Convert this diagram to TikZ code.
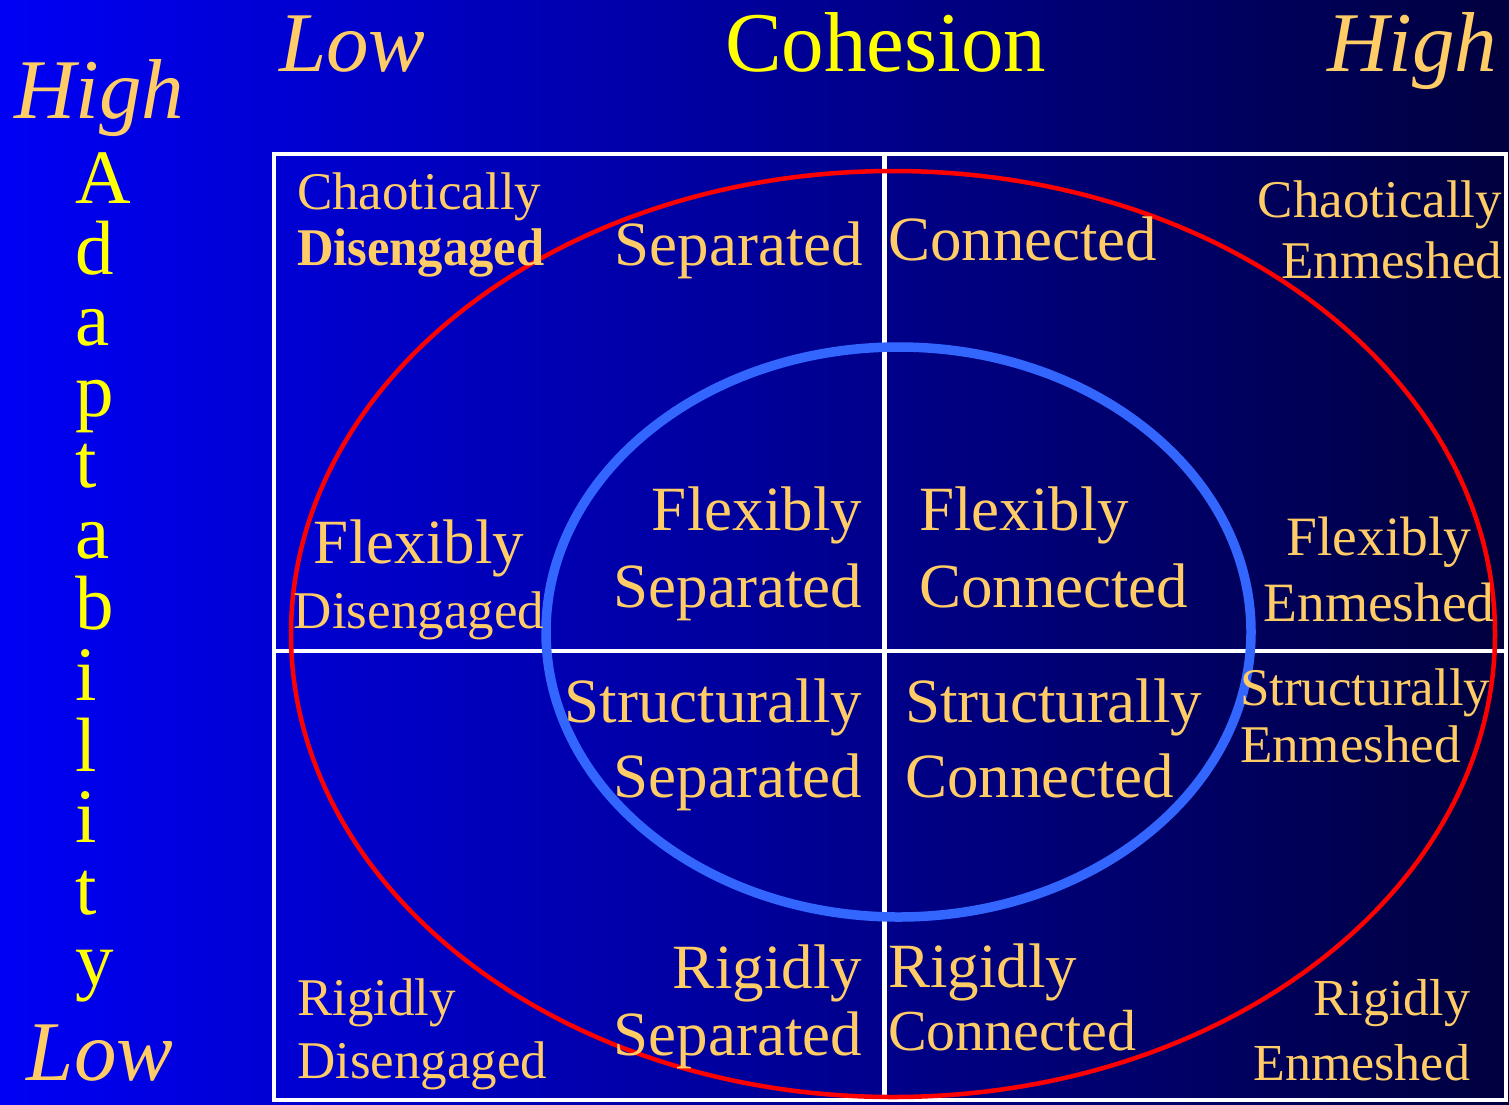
\documentclass[tikz,border=0pt]{standalone}
\usepackage{fontspec}
\usetikzlibrary{shapes.geometric}
\setmainfont{Liberation Serif}
\newcommand\fsz[1]{\fontsize{#1}{#1}\selectfont}
\definecolor{bgL}{RGB}{0,0,245}
\definecolor{bgM}{RGB}{0,0,182}
\definecolor{bgR}{RGB}{0,0,62}
\definecolor{lbl}{RGB}{255,204,102}
\definecolor{ylw}{RGB}{255,255,0}
\definecolor{inner}{RGB}{51,102,255}
\begin{document}
\begin{tikzpicture}[x=1pt,y=-1pt,
  txt/.style={inner sep=0pt,outer sep=0pt,text=lbl},
  big/.style={txt,font=\fsz{63}},
  mid/.style={txt,font=\fsz{53}},
  axis/.style={txt,font=\fsz{85}\itshape},
  letter/.style={inner sep=0pt,outer sep=0pt,text=ylw,font=\fsz{77},anchor=base west},
  frame/.style={draw=white,line width=4.5pt}]
\useasboundingbox (0,0) rectangle (1509,1104);
\shade[left color=bgL,middle color=bgM,right color=bgR] (0,0) rectangle (1509,1104);

% frame and dividers
\draw[frame] (274,154) rectangle (1506,1100);
\draw[frame] (884.5,154) -- (884.5,1100);
\draw[frame] (274,651) -- (1506,651);

% ellipses
\node[draw=red,line width=4.5pt,ellipse,minimum width=1204pt,minimum height=926pt,inner sep=0pt,outer sep=0pt] (outer) at (893,634) {};
\node[draw=inner,line width=9.5pt,ellipse,minimum width=705pt,minimum height=570pt,inner sep=0pt,outer sep=0pt] (innerE) at (898.5,632) {};

% axis labels
\node[axis,anchor=base west] (hiA) at (14,118) {High};
\node[axis,anchor=base west] (loA) at (27,1080) {Low};
\node[axis,anchor=base west] (loC) at (279,71) {Low};
\node[axis,anchor=base east] (hiC) at (1497,71) {High};
\node[inner sep=0pt,text=ylw,font=\fsz{85},anchor=base west] (coh) at (725,71) {Cohesion};

% Adaptability
\foreach \ch [count=\i from 0] in {A,d,a,p,t,a,b,i,l,i,t,y}
  \node[letter] (ad\i) at (75,203+71.1*\i) {\ch};

% top-left cell
\node[mid,anchor=base west] (cd1) at (297,209) {Chaotically};
\node[mid,anchor=base west,font=\fsz{53}\bfseries,xscale=0.955] (cd2) at (297,265) {Disengaged};
\node[big,anchor=base east] (sep) at (863,265) {Separated};
\node[big,anchor=base] (fd1) at (419,563) {Flexibly};
\node[mid,anchor=base] (fd2) at (419,628) {Disengaged};
\node[big,anchor=base east] (fs1) at (862,530) {Flexibly};
\node[big,anchor=base east] (fs2) at (862,607) {Separated};

% top-right cell
\node[big,anchor=base west] (con) at (888,260) {Connected};
\node[mid,anchor=base east] (ce1) at (1502,217) {Chaotically};
\node[mid,anchor=base east] (ce2) at (1502,278) {Enmeshed};
\node[big,anchor=base west] (fc1) at (919,530) {Flexibly};
\node[big,anchor=base west] (fc2) at (919,607) {Connected};
\node[txt,font=\fsz{55.5},anchor=base] (fe1) at (1379,555) {Flexibly};
\node[txt,font=\fsz{55.5},anchor=base] (fe2) at (1379,621) {Enmeshed};

% bottom-left cell
\node[big,anchor=base east] (ss1) at (862,722) {Structurally};
\node[big,anchor=base east] (ss2) at (862,797) {Separated};
\node[big,anchor=base east] (rs1) at (862,988) {Rigidly};
\node[big,anchor=base east] (rs2) at (862,1055) {Separated};
\node[mid,anchor=base west] (rd1) at (297,1015) {Rigidly};
\node[mid,anchor=base west] (rd2) at (297,1078) {Disengaged};

% bottom-right cell
\node[big,anchor=base west] (sc1) at (905,722) {Structurally};
\node[big,anchor=base west] (sc2) at (905,797) {Connected};
\node[mid,anchor=base west] (se1) at (1240,705) {Structurally};
\node[mid,anchor=base west] (se2) at (1240,762) {Enmeshed};
\node[big,anchor=base west] (rc1) at (888,987) {Rigidly};
\node[txt,font=\fsz{58},anchor=base west] (rc2) at (888,1050) {Connected};
\node[txt,font=\fsz{52},anchor=base east] (re1) at (1470,1015) {Rigidly};
\node[txt,font=\fsz{52},anchor=base east] (re2) at (1470,1080) {Enmeshed};
\end{tikzpicture}
\end{document}
